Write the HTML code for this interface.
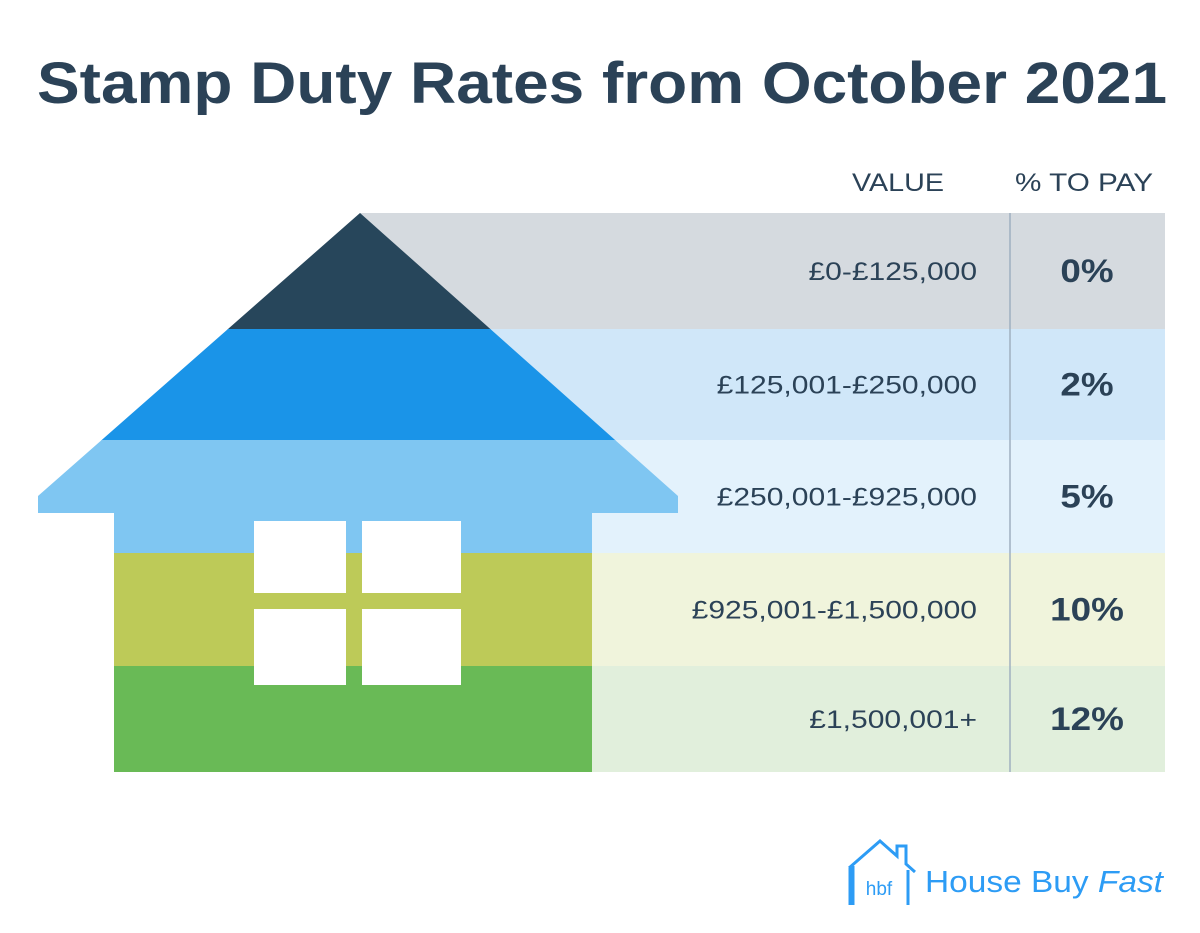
<!DOCTYPE html>
<html><head><meta charset="utf-8"><style>
html,body{margin:0;padding:0;background:#fff;}
svg{display:block;font-family:"Liberation Sans",sans-serif;}
</style></head><body>
<svg width="1200" height="933" viewBox="0 0 1200 933">
<text x="37" y="103" font-size="58" font-weight="bold" fill="#2b4257" textLength="1130" lengthAdjust="spacingAndGlyphs">Stamp Duty Rates from October 2021</text>
<text x="852" y="191" font-size="25" fill="#2b4257" textLength="92" lengthAdjust="spacingAndGlyphs">VALUE</text>
<text x="1015" y="191" font-size="25" fill="#2b4257" textLength="138" lengthAdjust="spacingAndGlyphs">% TO PAY</text>
<g id="rows"></g>
<g id="house"></g>
<line x1="1010" y1="213" x2="1010" y2="772" stroke="#9fb0c0" stroke-width="1.5"/>
<g>
<path d="M849 868 L880 841 L897 856 L897 846 L906 846 L906 864 L915 872 M850 868 L850 905 M853 866 L853 905 M908 870 L908 905" fill="none" stroke="#2d9cf5" stroke-width="3"/>
<text x="879" y="895" font-size="19" fill="#2d9cf5" text-anchor="middle">hbf</text>
<text x="925" y="892" font-size="31" fill="#2d9cf5" textLength="238" lengthAdjust="spacingAndGlyphs">House Buy <tspan font-style="italic">Fast</tspan></text>
</g>
</svg>
<script>
const bands=["£0-£125,000","£125,001-£250,000","£250,001-£925,000","£925,001-£1,500,000","£1,500,001+"];
const rates=[0,2,5,10,12];
const bgColors=["#d5dadf","#d0e7f9","#e3f2fc","#f0f4dc","#e1efdc"];
const houseColors=["#27465b","#1a94e8","#7fc6f2","#bdca58","#69ba56"];
const bounds=[213,329,440,553,666,772];
const NS="http://www.w3.org/2000/svg";
const rows=document.getElementById('rows');
const house=document.getElementById('house');
function mk(tag,attrs,parent){const e=document.createElementNS(NS,tag);for(const k in attrs)e.setAttribute(k,attrs[k]);parent.appendChild(e);return e;}
bands.forEach((b,i)=>{
  const y0=bounds[i],y1=bounds[i+1],x0=i<3?360:592;
  const r=mk('rect',{x:x0,y:y0,width:1165-x0,height:y1-y0,fill:bgColors[i]},rows);
  
  
  const t=mk('text',{x:977,y:(y0+y1)/2+9,'font-size':25,fill:'#2b4257','text-anchor':'end'},rows);
  t.textContent=b;
  
  
  const w=t.getComputedTextLength();
  t.setAttribute('textLength',(w*1.2).toFixed(1));
  t.setAttribute('lengthAdjust','spacingAndGlyphs');
  const p=mk('text',{x:1087,y:(y0+y1)/2+11,'font-size':32,'font-weight':'bold',fill:'#2b4257','text-anchor':'middle'},rows);
  p.textContent=rates[i]+'%';
  
  
  const pw=p.getComputedTextLength();
  p.setAttribute('textLength',(pw*1.15).toFixed(1));
  p.setAttribute('lengthAdjust','spacingAndGlyphs');
});
const defs=mk('defs',{},house);
const cp=mk('clipPath',{id:'hc'},defs);
mk('path',{d:'M360 213 L678 496 L678 513 L592 513 L592 772 L114 772 L114 513 L38 513 L38 496 Z'},cp);
const g=mk('g',{'clip-path':'url(#hc)'},house);
houseColors.forEach((c,i)=>{
  const r=mk('rect',{x:0,y:bounds[i],width:700,height:bounds[i+1]-bounds[i]+(i<4?0.5:0),fill:c},g);
  
  
});
[[254,521,92,72],[362,521,99,72],[254,609,92,76],[362,609,99,76]].forEach((w,i)=>{
  const r=mk('rect',{x:w[0],y:w[1],width:w[2],height:w[3],fill:'#fff'},house);
  
  
});
</script>
</body></html>
